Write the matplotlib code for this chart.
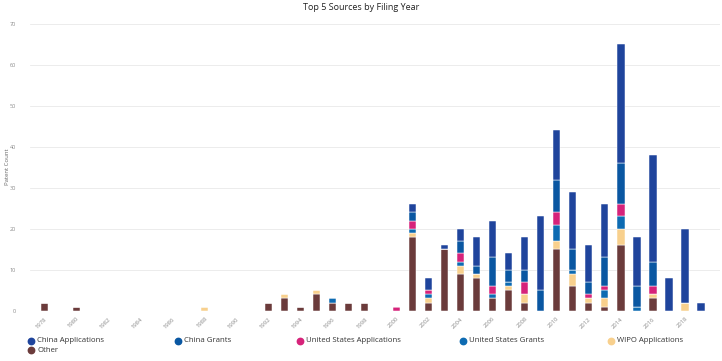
#!/usr/bin/env python3
import matplotlib
matplotlib.use("Agg")
import matplotlib.pyplot as plt
from matplotlib.lines import Line2D

# --- [ top 5 sources by filing year, stacked bars ] ---

YEARS = [1978, 1980, 1988, 1992, 1993, 1994, 1995, 1996, 1997, 1998, 2000,
         2001, 2002, 2003, 2004, 2005, 2006, 2007, 2008, 2009, 2010,
         2011, 2012, 2013, 2014, 2015, 2016, 2017, 2018, 2019]

CHINA_APPS = [0, 0, 0, 0, 0, 0, 0, 0, 0, 0, 0,
              2, 3, 1, 3, 7, 9, 4, 8, 18, 12, 14, 9, 13, 29, 12, 26, 8, 18, 2]
CHINA_GRANTS = [0, 0, 0, 0, 0, 0, 0, 0, 0, 0, 0,
                2, 0, 0, 3, 2, 7, 3, 3, 5, 8, 5, 3, 7, 10, 5, 6, 0, 0, 0]
US_APPS = [0, 0, 0, 0, 0, 0, 0, 0, 0, 0, 1,
           2, 1, 0, 2, 0, 2, 0, 3, 0, 3, 0, 1, 1, 3, 0, 2, 0, 0, 0]
US_GRANTS = [0, 0, 0, 0, 0, 0, 0, 1, 0, 0, 0,
             1, 1, 0, 1, 0, 1, 1, 0, 0, 4, 1, 0, 2, 3, 1, 0, 0, 0, 0]
WIPO_APPS = [0, 0, 1, 0, 1, 0, 1, 0, 0, 0, 0,
             1, 1, 0, 2, 1, 0, 1, 2, 0, 2, 3, 1, 2, 4, 0, 1, 0, 2, 0]
OTHER = [2, 1, 0, 2, 3, 1, 4, 2, 2, 2, 0,
         18, 2, 15, 9, 8, 3, 5, 2, 0, 15, 6, 2, 1, 16, 0, 3, 0, 0, 0]

SERIES_NAMES = ["China Applications", "China Grants", "United States Applications",
                "United States Grants", "WIPO Applications", "Other"]
SERIES_COLORS = ["#1f449c", "#0a57a2", "#d6237a", "#0d6bb2", "#f8d08d", "#6b3b3b"]

X_TICKS = list(range(1978, 2019, 2))
Y_TICKS = list(range(0, 71, 10))

# legend slots in pixels (x of marker, y of row), wrapped like the reference
LEGEND_SLOTS = [(31, 341), (178, 341), (300, 341), (463, 341), (611, 341), (31, 350)]

FONT = "Open Sans"
GRAY = "#8a8a8a"
W, H = 722, 361


def draw_bars(ax):
    series = [CHINA_APPS, CHINA_GRANTS, US_APPS, US_GRANTS, WIPO_APPS, OTHER]
    # bottom of the stack is the last series in the legend
    bottom = [0] * len(YEARS)
    for values, color in zip(reversed(series), reversed(SERIES_COLORS)):
        ax.bar(YEARS, values, width=0.47, bottom=bottom, color=color,
               edgecolor="white", linewidth=0.35, zorder=3)
        bottom = [b + v for b, v in zip(bottom, values)]


def draw_legend(fig):
    for name, color, (px, py) in zip(SERIES_NAMES, SERIES_COLORS, LEGEND_SLOTS):
        fx, fy = px / W, 1 - py / H
        fig.add_artist(Line2D([fx], [fy], transform=fig.transFigure, marker="o",
                              markersize=4.6, markerfacecolor=color,
                              markeredgecolor=color, linestyle=""))
        fig.text(fx + 6 / W, fy, name, ha="left", va="center", fontsize=5.6,
                 color="#333333", family=FONT)


if __name__ == "__main__":
    fig = plt.figure(figsize=(W / 100, H / 100), dpi=100)
    ax = fig.add_axes([30 / W, 50.3 / H, 690 / W, 286.7 / H])

    draw_bars(ax)

    ax.set_xlim(1977.1, 2020.2)
    ax.set_ylim(0, 70)
    ax.set_yticks(Y_TICKS)
    ax.set_yticklabels([str(t) for t in Y_TICKS], fontsize=4.0, color=GRAY, family=FONT)
    ax.set_xticks(X_TICKS)
    ax.set_xticklabels([str(t) for t in X_TICKS], fontsize=4.2, color=GRAY,
                       family=FONT, rotation=45, ha="right", rotation_mode="anchor")
    ax.tick_params(axis="y", length=0, pad=10)
    ax.tick_params(axis="x", length=0, pad=4)
    ax.grid(axis="y", color="#e9e9e9", linewidth=0.6, zorder=0)
    for spine in ax.spines.values():
        spine.set_visible(False)
    ax.axhline(0, color="#eef2f4", linewidth=0.6, zorder=1)

    fig.text(7.5 / W, 1 - 167 / H, "Patent Count", rotation=90, ha="center", va="center",
             fontsize=4.3, color="#666666", family=FONT)
    fig.text(0.5, 0.978, "Top 5 Sources by Filing Year", ha="center", va="center",
             fontsize=6.5, color="#222222", family=FONT)

    draw_legend(fig)

    fig.savefig("out.png", dpi=100)
    plt.close(fig)
